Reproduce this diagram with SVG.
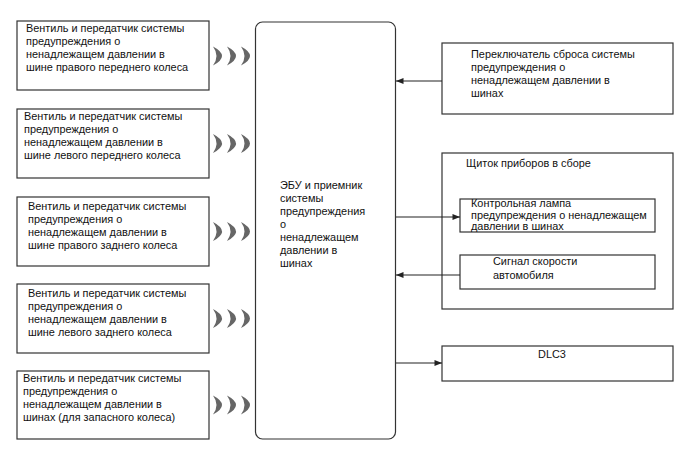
<svg xmlns="http://www.w3.org/2000/svg" width="688" height="463" viewBox="0 0 688 463">
<style>
  .box { fill: #fff; stroke: #333; stroke-width: 1.2; }
  .t { font-family: "Liberation Sans", Arial, sans-serif; font-size: 10.9px; fill: #111; }
  .wave { fill: #666; }
  .con { stroke: #222; stroke-width: 1.2; fill: none; }
</style>
<defs>
  <marker id="ah" viewBox="0 0 10 8" refX="10" refY="4" markerWidth="8" markerHeight="6" markerUnits="userSpaceOnUse" orient="auto">
    <path d="M0,0 L10,4 L0,8 Z" fill="#222"/>
  </marker>
  <path id="cres" d="M0,-9.5 Q18,0 0,9.5 Q7,0 0,-9.5 Z"/>
  <g id="waves">
    <use href="#cres" x="213" class="wave"/>
    <use href="#cres" x="227" class="wave"/>
    <use href="#cres" x="241" class="wave"/>
  </g>
</defs>
<rect width="688" height="463" fill="#fff"/>

<g id="s1">
  <rect class="box" x="17" y="21" width="192" height="69"/>
  <text class="t"><tspan x="26" y="32">Вентиль и передатчик системы</tspan><tspan x="26" y="45">предупреждения о</tspan><tspan x="26" y="58">ненадлежащем давлении в</tspan><tspan x="26" y="71">шине правого переднего колеса</tspan></text>
  <use href="#waves" y="56"/>
</g>
<g id="s2">
  <rect class="box" x="17" y="109" width="192" height="69"/>
  <text class="t"><tspan x="24" y="120">Вентиль и передатчик системы</tspan><tspan x="24" y="133">предупреждения о</tspan><tspan x="24" y="146">ненадлежащем давлении в</tspan><tspan x="24" y="159">шине левого переднего колеса</tspan></text>
  <use href="#waves" y="143.5"/>
</g>
<g id="s3">
  <rect class="box" x="17" y="197" width="192" height="69"/>
  <text class="t"><tspan x="28" y="210">Вентиль и передатчик системы</tspan><tspan x="28" y="223">предупреждения о</tspan><tspan x="28" y="236">ненадлежащем давлении в</tspan><tspan x="28" y="249">шине правого заднего колеса</tspan></text>
  <use href="#waves" y="231.5"/>
</g>
<g id="s4">
  <rect class="box" x="17" y="284" width="192" height="69"/>
  <text class="t"><tspan x="28" y="297">Вентиль и передатчик системы</tspan><tspan x="28" y="310">предупреждения о</tspan><tspan x="28" y="323">ненадлежащем давлении в</tspan><tspan x="28" y="336">шине левого заднего колеса</tspan></text>
  <use href="#waves" y="318.5"/>
</g>
<g id="s5">
  <rect class="box" x="17" y="371" width="192" height="68"/>
  <text class="t"><tspan x="23" y="382">Вентиль и передатчик системы</tspan><tspan x="23" y="395">предупреждения о</tspan><tspan x="23" y="408">ненадлежащем давлении в</tspan><tspan x="23" y="421">шинах (для запасного колеса)</tspan></text>
  <use href="#waves" y="405"/>
</g>

<g id="ecu">
  <rect class="box" x="255.5" y="22" width="140" height="417" rx="7" ry="7" stroke-width="1.4"/>
  <text class="t"><tspan x="280" y="189">ЭБУ и приемник</tspan><tspan x="280" y="202">системы</tspan><tspan x="280" y="215">предупреждения</tspan><tspan x="280" y="228">о</tspan><tspan x="280" y="241">ненадлежащем</tspan><tspan x="280" y="254">давлении в</tspan><tspan x="280" y="267">шинах</tspan></text>
</g>

<g id="reset">
  <rect class="box" x="442" y="43" width="231" height="71"/>
  <text class="t"><tspan x="471" y="58">Переключатель сброса системы</tspan><tspan x="471" y="71">предупреждения о</tspan><tspan x="471" y="84">ненадлежащем давлении в</tspan><tspan x="471" y="97">шинах</tspan></text>
</g>

<g id="cluster">
  <rect class="box" x="442" y="153" width="231" height="156"/>
  <text class="t" x="466" y="167">Щиток приборов в сборе</text>
</g>
<g id="lamp">
  <rect class="box" x="460" y="199" width="195" height="33"/>
  <text class="t"><tspan x="471" y="207">Контрольная лампа</tspan><tspan x="471" y="219">предупреждения о ненадлежащем</tspan><tspan x="471" y="230">давлении в шинах</tspan></text>
</g>
<g id="speed">
  <rect class="box" x="460" y="255" width="195" height="34"/>
  <text class="t"><tspan x="493" y="265">Сигнал скорости</tspan><tspan x="493" y="279">автомобиля</tspan></text>
</g>
<g id="dlc">
  <rect class="box" x="442" y="346" width="231" height="35"/>
  <text class="t" x="552" y="358" text-anchor="middle">DLC3</text>
</g>

<g id="connectors">
  <line class="con" x1="442" y1="81" x2="396" y2="81" marker-end="url(#ah)"/>
  <line class="con" x1="396" y1="217" x2="460" y2="217" marker-end="url(#ah)"/>
  <line class="con" x1="460" y1="275" x2="396" y2="275" marker-end="url(#ah)"/>
  <line class="con" x1="396" y1="363" x2="442" y2="363" marker-end="url(#ah)"/>
</g>
</svg>
